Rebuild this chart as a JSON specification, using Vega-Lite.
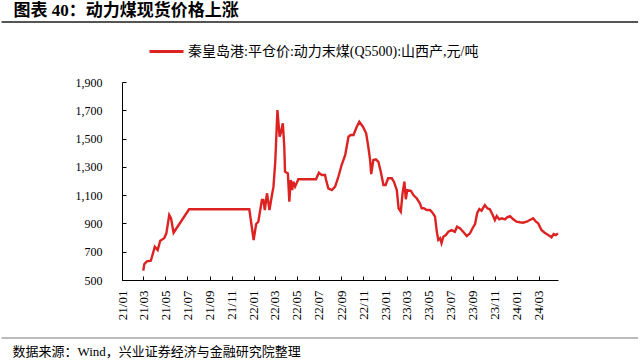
{
  "$schema": "https://vega.github.io/schema/vega-lite/v6.json",
  "width": 436,
  "height": 198,
  "autosize": {"type": "none"},
  "padding": {"left": 122, "top": 82, "right": 82, "bottom": 80},
  "background": "white",
  "config": {
    "view": {"stroke": null},
    "font": "Liberation Serif, Noto Sans CJK SC",
    "axisY": {
      "labelOverlap": false,
      "labelFont": "Liberation Serif",
      "labelFontSize": 12,
      "labelColor": "#000000",
      "labelPadding": 24,
      "tickSize": -4,
      "tickColor": "#000000",
      "domainColor": "#000000",
      "grid": false
    }
  },
  "title": {
    "text": "图表 40：动力煤现货价格上涨",
    "anchor": "start",
    "frame": "bounds",
    "font": "Liberation Serif, Noto Sans CJK SC",
    "fontWeight": "bold",
    "fontSize": 17,
    "color": "#000000",
    "offset": 1,
    "dx": 13
  },
  "layer": [
    {
      "data": {
        "values": [
          {"date": "2021-03-01", "value": 566},
          {"date": "2021-03-04", "value": 613},
          {"date": "2021-03-11", "value": 632},
          {"date": "2021-03-22", "value": 636},
          {"date": "2021-04-02", "value": 735},
          {"date": "2021-04-10", "value": 712},
          {"date": "2021-04-17", "value": 778},
          {"date": "2021-04-28", "value": 795},
          {"date": "2021-05-04", "value": 830},
          {"date": "2021-05-12", "value": 960},
          {"date": "2021-05-17", "value": 936},
          {"date": "2021-05-24", "value": 834},
          {"date": "2021-07-06", "value": 1000},
          {"date": "2021-12-20", "value": 1000},
          {"date": "2022-01-01", "value": 783},
          {"date": "2022-01-08", "value": 896},
          {"date": "2022-01-14", "value": 912},
          {"date": "2022-01-24", "value": 1066},
          {"date": "2022-01-28", "value": 1066},
          {"date": "2022-02-01", "value": 995},
          {"date": "2022-02-07", "value": 1113},
          {"date": "2022-02-14", "value": 995},
          {"date": "2022-02-20", "value": 1089},
          {"date": "2022-02-25", "value": 1160},
          {"date": "2022-03-02", "value": 1336},
          {"date": "2022-03-08", "value": 1702},
          {"date": "2022-03-14", "value": 1513},
          {"date": "2022-03-17", "value": 1537},
          {"date": "2022-03-23", "value": 1608},
          {"date": "2022-03-27", "value": 1442},
          {"date": "2022-03-29", "value": 1266},
          {"date": "2022-04-06", "value": 1254},
          {"date": "2022-04-10", "value": 1054},
          {"date": "2022-04-14", "value": 1207},
          {"date": "2022-04-18", "value": 1136},
          {"date": "2022-04-21", "value": 1195},
          {"date": "2022-04-26", "value": 1160},
          {"date": "2022-05-05", "value": 1212},
          {"date": "2022-06-23", "value": 1212},
          {"date": "2022-07-01", "value": 1259},
          {"date": "2022-07-09", "value": 1242},
          {"date": "2022-07-18", "value": 1242},
          {"date": "2022-07-21", "value": 1207},
          {"date": "2022-07-27", "value": 1148},
          {"date": "2022-08-06", "value": 1136},
          {"date": "2022-08-15", "value": 1160},
          {"date": "2022-08-24", "value": 1230},
          {"date": "2022-09-02", "value": 1313},
          {"date": "2022-09-12", "value": 1384},
          {"date": "2022-09-21", "value": 1513},
          {"date": "2022-09-27", "value": 1525},
          {"date": "2022-10-05", "value": 1525},
          {"date": "2022-10-14", "value": 1584},
          {"date": "2022-10-21", "value": 1619},
          {"date": "2022-10-31", "value": 1584},
          {"date": "2022-11-09", "value": 1537},
          {"date": "2022-11-15", "value": 1442},
          {"date": "2022-11-20", "value": 1348},
          {"date": "2022-11-23", "value": 1249},
          {"date": "2022-11-29", "value": 1348},
          {"date": "2022-12-06", "value": 1353},
          {"date": "2022-12-13", "value": 1336},
          {"date": "2022-12-19", "value": 1273},
          {"date": "2022-12-27", "value": 1172},
          {"date": "2023-01-02", "value": 1172},
          {"date": "2023-01-09", "value": 1219},
          {"date": "2023-01-19", "value": 1219},
          {"date": "2023-01-25", "value": 1195},
          {"date": "2023-02-02", "value": 1136},
          {"date": "2023-02-07", "value": 1007},
          {"date": "2023-02-13", "value": 983},
          {"date": "2023-02-18", "value": 1113},
          {"date": "2023-02-23", "value": 1195},
          {"date": "2023-02-27", "value": 1071},
          {"date": "2023-03-03", "value": 1136},
          {"date": "2023-03-13", "value": 1131},
          {"date": "2023-03-20", "value": 1101},
          {"date": "2023-03-29", "value": 1078},
          {"date": "2023-04-07", "value": 1042},
          {"date": "2023-04-12", "value": 1007},
          {"date": "2023-04-18", "value": 1007},
          {"date": "2023-04-26", "value": 995},
          {"date": "2023-05-05", "value": 995},
          {"date": "2023-05-12", "value": 976},
          {"date": "2023-05-19", "value": 948},
          {"date": "2023-05-24", "value": 841},
          {"date": "2023-05-28", "value": 783},
          {"date": "2023-06-02", "value": 795},
          {"date": "2023-06-06", "value": 760},
          {"date": "2023-06-11", "value": 806},
          {"date": "2023-06-18", "value": 818},
          {"date": "2023-06-25", "value": 841},
          {"date": "2023-07-04", "value": 853},
          {"date": "2023-07-13", "value": 841},
          {"date": "2023-07-19", "value": 877},
          {"date": "2023-07-27", "value": 866},
          {"date": "2023-08-05", "value": 841},
          {"date": "2023-08-15", "value": 811},
          {"date": "2023-08-24", "value": 830},
          {"date": "2023-08-31", "value": 866},
          {"date": "2023-09-07", "value": 896},
          {"date": "2023-09-13", "value": 974},
          {"date": "2023-09-19", "value": 1002},
          {"date": "2023-09-25", "value": 990},
          {"date": "2023-10-04", "value": 1030},
          {"date": "2023-10-11", "value": 1007},
          {"date": "2023-10-18", "value": 1000},
          {"date": "2023-10-26", "value": 960},
          {"date": "2023-11-01", "value": 924},
          {"date": "2023-11-06", "value": 952},
          {"date": "2023-11-13", "value": 929},
          {"date": "2023-11-20", "value": 936},
          {"date": "2023-11-29", "value": 929},
          {"date": "2023-12-05", "value": 943},
          {"date": "2023-12-13", "value": 952},
          {"date": "2023-12-22", "value": 929},
          {"date": "2023-12-31", "value": 912},
          {"date": "2024-01-09", "value": 908},
          {"date": "2024-01-18", "value": 905},
          {"date": "2024-01-28", "value": 912},
          {"date": "2024-02-06", "value": 924},
          {"date": "2024-02-15", "value": 936},
          {"date": "2024-02-23", "value": 912},
          {"date": "2024-02-29", "value": 901},
          {"date": "2024-03-09", "value": 854},
          {"date": "2024-03-18", "value": 834},
          {"date": "2024-03-28", "value": 818},
          {"date": "2024-04-06", "value": 802},
          {"date": "2024-04-12", "value": 825},
          {"date": "2024-04-18", "value": 818},
          {"date": "2024-04-24", "value": 830}
        ]
      },
      "transform": [{"calculate": "'秦皇岛港:平仓价:动力末煤(Q5500):山西产,元/吨'", "as": "name"}],
      "mark": {"type": "line", "strokeWidth": 2.4, "clip": false},
      "encoding": {
        "x": {
          "field": "date",
          "type": "temporal",
          "scale": {"type": "utc", "domain": [{"year": 2021, "month": 1, "date": 1, "utc": true}, {"year": 2024, "month": 4, "date": 24, "utc": true}]},
          "axis": {
            "format": "%y/%m",
            "tickCount": {"interval": "month", "step": 2},
            "labelAngle": 270,
            "labelFont": "Liberation Serif",
            "labelFontSize": 13,
            "labelColor": "#000000",
            "labelFlush": false,
            "labelOverlap": false,
            "labelPadding": 14,
            "tickSize": -4,
            "tickColor": "#000000",
            "domainColor": "#000000",
            "grid": false,
            "title": "数据来源：Wind，兴业证券经济与金融研究院整理",
            "titleFont": "Liberation Serif, Noto Sans CJK SC",
            "titleFontSize": 13,
            "titleFontWeight": "normal",
            "titleColor": "#000000",
            "titleAnchor": "start",
            "titleAlign": "left",
            "titleBaseline": "alphabetic",
            "titleX": -110,
            "titleY": 75
          }
        },
        "y": {
          "field": "value",
          "type": "quantitative",
          "scale": {"domain": [500, 1900], "nice": false, "zero": false},
          "axis": {"values": [500, 700, 900, 1100, 1300, 1500, 1700, 1900], "format": ",.0f", "title": null}
        },
        "color": {
          "field": "name",
          "type": "nominal",
          "scale": {"range": ["#dd2222"]},
          "legend": {
            "orient": "none",
            "legendX": 26,
            "legendY": -49,
            "title": null,
            "padding": 0,
            "symbolType": "stroke",
            "symbolSize": 1156,
            "symbolStrokeWidth": 3,
            "labelFont": "Liberation Serif, Noto Sans CJK SC",
            "labelFontSize": 14,
            "labelColor": "#000000",
            "labelOffset": 3,
            "labelLimit": 500
          }
        }
      }
    },
    {
      "data": {"values": [{}]},
      "mark": {"type": "rule", "color": "#555555", "strokeWidth": 2, "clip": false},
      "encoding": {
        "x": {"datum": {"year": 2020, "month": 2, "date": 2, "utc": true}, "type": "temporal"},
        "x2": {"datum": {"year": 2024, "month": 12, "date": 2, "utc": true}},
        "y": {"datum": 2324, "type": "quantitative", "axis": {"values": [500, 700, 900, 1100, 1300, 1500, 1700, 1900], "format": ",.0f", "title": null}}
      }
    },
    {
      "data": {"values": [{}]},
      "mark": {"type": "rule", "color": "#777777", "strokeWidth": 1, "clip": false},
      "encoding": {
        "x": {"datum": {"year": 2020, "month": 2, "date": 2, "utc": true}, "type": "temporal"},
        "x2": {"datum": {"year": 2024, "month": 12, "date": 2, "utc": true}},
        "y": {"datum": 90, "type": "quantitative", "axis": {"values": [500, 700, 900, 1100, 1300, 1500, 1700, 1900], "format": ",.0f", "title": null}}
      }
    }
  ]
}
